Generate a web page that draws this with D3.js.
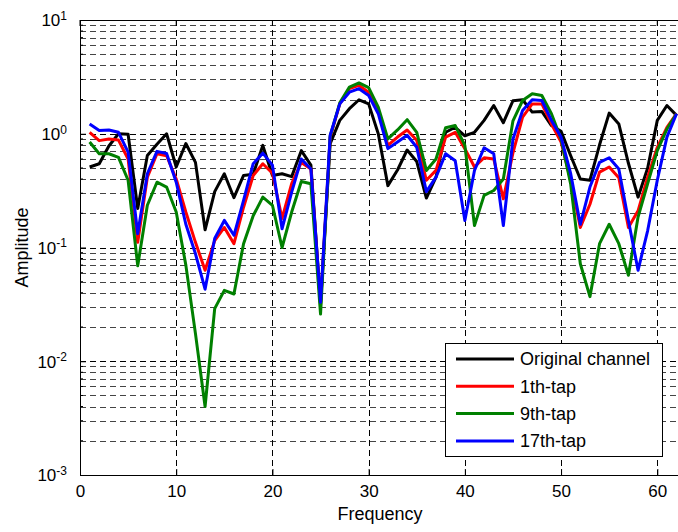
<!DOCTYPE html>
<html>
<head>
<meta charset="utf-8">
<script src="https://cdn.jsdelivr.net/npm/d3@7"></script>
<style>
  body { margin: 0; background: #fff; }
  text { font-family: "Liberation Sans", Arial, sans-serif; }
</style>
</head>
<body>
<div id="chart"></div>
<script>
// frequency bins 1..62
const freq = d3.range(1, 63);

const original = [0.51, 0.545, 0.78, 1.0, 0.99, 0.22, 0.645, 0.81, 1.0, 0.51,
  0.82, 0.56, 0.143, 0.31, 0.445, 0.274, 0.43, 0.44, 0.79, 0.43,
  0.445, 0.42, 0.71, 0.53, 0.032, 0.82, 1.31, 1.66, 1.99, 1.83,
  1.0, 0.35, 0.48, 0.72, 0.57, 0.272, 0.415, 1.03, 1.14, 0.96,
  1.03, 1.31, 1.77, 1.25, 1.95, 1.99, 1.55, 1.57, 1.18, 1.05,
  0.64, 0.40, 0.39, 0.8, 1.52, 1.22, 0.55, 0.277, 0.5, 1.31,
  1.77, 1.45];

const tap1 = [1.03, 0.87, 0.9, 0.88, 0.6, 0.111, 0.415, 0.667, 0.64, 0.40,
  0.205, 0.111, 0.063, 0.115, 0.15, 0.108, 0.226, 0.43, 0.545, 0.45,
  0.18, 0.364, 0.56, 0.49, 0.031, 0.93, 1.83, 2.49, 2.66, 2.32,
  1.6, 0.79, 0.935, 1.08, 0.875, 0.39, 0.476, 0.935, 1.03, 0.74,
  0.51, 0.615, 0.6, 0.268, 0.68, 1.4, 1.83, 1.83, 1.22, 0.845,
  0.39, 0.15, 0.24, 0.46, 0.51, 0.41, 0.15, 0.21, 0.415, 0.76,
  1.14, 1.5];

const tap9 = [0.845, 0.667, 0.667, 0.62, 0.39, 0.069, 0.235, 0.375, 0.34, 0.205,
  0.07, 0.0175, 0.004, 0.029, 0.042, 0.039, 0.108, 0.19, 0.277, 0.235,
  0.1, 0.205, 0.38, 0.364, 0.026, 0.95, 1.87, 2.57, 2.8, 2.54,
  1.71, 0.9, 1.08, 1.33, 1.03, 0.476, 0.6, 1.13, 1.18, 0.79,
  0.156, 0.287, 0.317, 0.40, 1.3, 1.96, 2.25, 2.17, 1.5, 0.9,
  0.36, 0.072, 0.037, 0.108, 0.16, 0.108, 0.057, 0.185, 0.364, 0.71,
  1.1, 1.5];

const tap17 = [1.22, 1.07, 1.08, 1.03, 0.69, 0.132, 0.445, 0.70, 0.67, 0.375,
  0.16, 0.088, 0.043, 0.12, 0.173, 0.128, 0.26, 0.545, 0.675, 0.53,
  0.146, 0.307, 0.6, 0.49, 0.033, 0.97, 1.83, 2.32, 2.49, 2.17,
  1.5, 0.74, 0.845, 0.97, 0.76, 0.31, 0.415, 0.667, 0.58, 0.173,
  0.476, 0.753, 0.667, 0.156, 0.9, 1.6, 1.99, 1.96, 1.31, 0.935,
  0.445, 0.16, 0.34, 0.56, 0.615, 0.49, 0.173, 0.063, 0.141, 0.39,
  0.935, 1.5];

const seriesNames = ["Original channel", "1th-tap", "9th-tap", "17th-tap"];
const seriesColors = ["#000000", "#ff0000", "#008000", "#0000ff"];
const seriesValues = [original, tap1, tap9, tap17];

const xTicks = [0, 10, 20, 30, 40, 50, 60];
const yExponents = [-3, -2, -1, 0, 1];

const width = 678, height = 532;
const margin = {top: 20, right: -2, bottom: 57, left: 80};
const plotW = width - margin.left - margin.right,
      plotH = height - margin.top - margin.bottom;

const svg = d3.select("#chart").append("svg")
    .attr("width", width)
    .attr("height", height);

const g = svg.append("g")
    .attr("transform", `translate(${margin.left},${margin.top})`);

const x = d3.scaleLinear().domain([0, 62.36]).range([0, plotW]);
const y = d3.scaleLog().domain([1e-3, 10]).range([plotH, 0]);

// minor + major log grid values
const minorVals = [];
yExponents.slice(0, -1).forEach(e => {
    for (let k = 2; k <= 9; k++) minorVals.push(k * Math.pow(10, e));
});
const majorVals = yExponents.map(e => Math.pow(10, e));

// horizontal grid
g.append("g").selectAll("line.minor")
    .data(minorVals)
    .enter().append("line")
    .attr("x1", 0).attr("x2", plotW)
    .attr("y1", d => Math.round(y(d)) + 0.5)
    .attr("y2", d => Math.round(y(d)) + 0.5)
    .attr("stroke", "#444")
    .attr("stroke-dasharray", "6,4");

g.append("g").selectAll("line.major")
    .data(majorVals.slice(0, -1))
    .enter().append("line")
    .attr("x1", 0).attr("x2", plotW)
    .attr("y1", d => Math.round(y(d)) + 0.5)
    .attr("y2", d => Math.round(y(d)) + 0.5)
    .attr("stroke", "#000")
    .attr("stroke-dasharray", "6,4");

// vertical grid
g.append("g").selectAll("line.vgrid")
    .data(xTicks.slice(1))
    .enter().append("line")
    .attr("x1", d => Math.round(x(d)) + 0.5)
    .attr("x2", d => Math.round(x(d)) + 0.5)
    .attr("y1", 0).attr("y2", plotH)
    .attr("stroke", "#000")
    .attr("stroke-dasharray", "6,4");

// series lines
const line = d3.line()
    .x((d, i) => x(freq[i]))
    .y(d => y(d));

g.append("g").selectAll("path.series")
    .data(seriesValues)
    .enter().append("path")
    .attr("fill", "none")
    .attr("stroke", (d, i) => seriesColors[i])
    .attr("stroke-width", 3)
    .attr("stroke-linejoin", "round")
    .attr("d", line);

// axes (ticks point inward like MATLAB)
const xAxis = g.append("g")
    .attr("transform", `translate(0,${plotH})`)
    .call(d3.axisBottom(x).tickValues(xTicks).tickSize(-6).tickPadding(10).tickFormat(d3.format("d")));
xAxis.select(".domain").remove();
xAxis.selectAll("text").style("font-size", "17px").attr("fill", "#000");

const yAxis = g.append("g")
    .call(d3.axisLeft(y).tickValues(majorVals).tickSize(-6).tickFormat(""));
yAxis.select(".domain").remove();
const yLab = yAxis.selectAll(".tick").append("text")
    .attr("x", -13)
    .attr("dy", "0.35em")
    .attr("text-anchor", "end")
    .attr("fill", "#000")
    .style("font-size", "17px");
yLab.append("tspan").text("10");
yLab.append("tspan")
    .attr("dy", "-0.55em")
    .style("font-size", "12px")
    .text(d => Math.round(Math.log10(d)));

g.append("g").selectAll("line.minortick")
    .data(minorVals)
    .enter().append("line")
    .attr("x1", 0).attr("x2", 3)
    .attr("y1", d => y(d)).attr("y2", d => y(d))
    .attr("stroke", "#000");

// top ticks
g.append("g").selectAll("line.toptick")
    .data(xTicks)
    .enter().append("line")
    .attr("x1", d => x(d)).attr("x2", d => x(d))
    .attr("y1", 0).attr("y2", 6)
    .attr("stroke", "#000");

// box
g.append("line").attr("x1", 0).attr("x2", plotW + 4).attr("y1", 0.5).attr("y2", 0.5).attr("stroke", "#000");
g.append("line").attr("x1", 0).attr("x2", plotW + 4).attr("y1", plotH + 0.5).attr("y2", plotH + 0.5).attr("stroke", "#000");
g.append("line").attr("x1", 0.5).attr("x2", 0.5).attr("y1", 0).attr("y2", plotH).attr("stroke", "#000");

// axis labels
svg.append("text")
    .attr("x", 380).attr("y", 520)
    .attr("text-anchor", "middle")
    .style("font-size", "18px")
    .text("Frequency");

svg.append("text")
    .attr("transform", `translate(28,${margin.top + plotH / 2}) rotate(-90)`)
    .attr("text-anchor", "middle")
    .style("font-size", "18px")
    .text("Amplitude");

// legend
const legend = svg.append("g").attr("transform", "translate(445,343)");
legend.append("rect")
    .attr("x", 0.5).attr("y", 0.5)
    .attr("width", 217).attr("height", 113)
    .attr("fill", "#fff")
    .attr("stroke", "#000");

const items = legend.selectAll("g.item")
    .data(seriesNames)
    .enter().append("g")
    .attr("transform", (d, i) => `translate(0,${16 + i * 27.3})`);
items.append("line")
    .attr("x1", 11).attr("x2", 69)
    .attr("stroke", (d, i) => seriesColors[i])
    .attr("stroke-width", 3);
items.append("text")
    .attr("x", 75)
    .attr("dy", "0.35em")
    .style("font-size", "18px")
    .text(d => d);
</script>
</body>
</html>
